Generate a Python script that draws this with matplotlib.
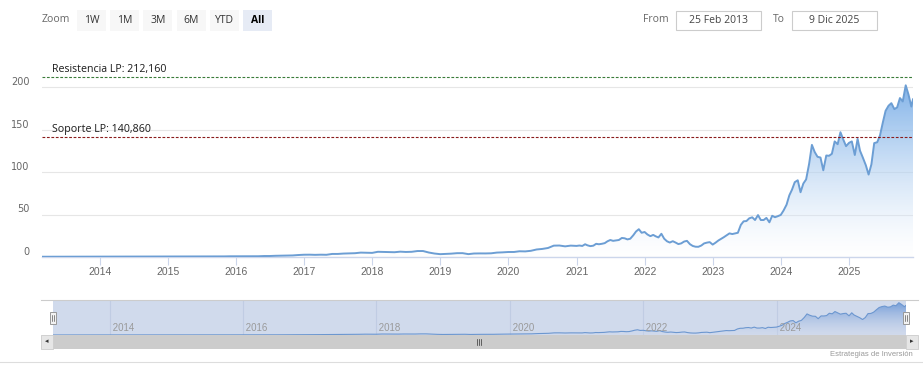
import numpy as np
import pandas as pd
import matplotlib
matplotlib.use("Agg")
import matplotlib.pyplot as plt
import matplotlib.dates as mdates
from matplotlib.patches import Rectangle
from matplotlib.transforms import blended_transform_factory

# monthly closes 2013-2020, semi-monthly 2021-2025 (split adjusted)
prices_2013 = [0.32, 0.35, 0.35, 0.35, 0.32, 0.34, 0.37, 0.38, 0.40, 0.40]
prices_2014 = [0.47, 0.46, 0.45, 0.46, 0.48, 0.46, 0.44, 0.46, 0.46, 0.49, 0.51, 0.50]
prices_2015 = [0.54, 0.55, 0.52, 0.55, 0.55, 0.50, 0.50, 0.56, 0.61, 0.71, 0.83, 0.82]
prices_2016 = [0.72, 0.76, 0.89, 0.89, 1.16, 1.17, 1.43, 1.53, 1.71, 1.84, 2.33, 2.67]
prices_2017 = [2.73, 2.53, 2.72, 2.60, 3.60, 3.61, 4.05, 4.22, 4.47, 5.17, 5.00, 4.84]
prices_2018 = [6.13, 6.00, 5.78, 5.62, 6.28, 5.92, 6.12, 7.02, 7.03, 5.27, 4.09, 3.34]
prices_2019 = [3.59, 3.94, 4.49, 4.52, 3.38, 4.11, 4.22, 4.19, 4.35, 5.20, 5.46, 5.88]
prices_2020 = [5.91, 6.74, 6.59, 7.28, 8.85, 9.48, 10.60, 13.37, 13.51, 12.52, 13.40, 13.04]
prices_2021 = [13.5, 13.0, 15.0, 13.7, 12.8, 13.3, 15.5, 15.0, 15.5, 16.3, 18.5, 20.0,
               19.0, 19.5, 20.0, 22.4, 22.0, 20.7, 21.5, 25.5, 30.0, 32.7, 28.5, 29.4]
prices_2022 = [26.5, 24.5, 26.0, 24.4, 23.0, 27.3, 21.5, 18.5, 17.0, 18.6, 17.0, 15.2,
               16.0, 18.2, 19.0, 15.1, 13.0, 12.1, 12.0, 13.5, 16.0, 16.9, 17.5, 14.6]
prices_2023 = [16.8, 19.5, 21.5, 23.2, 25.5, 27.8, 27.0, 27.7, 28.5, 37.8, 42.0, 42.3,
               45.5, 46.7, 43.5, 49.3, 43.5, 43.5, 46.0, 40.8, 48.5, 46.8, 48.0, 49.5]
prices_2024 = [54.7, 61.5, 72.6, 79.1, 88.0, 90.3, 76.2, 86.4, 91.3, 109.6, 131.9, 123.5,
               117.9, 117.0, 102.0, 119.4, 119.1, 121.4, 136.0, 132.7, 146.8, 138.3, 130.4, 134.3]
prices_2025 = [136.0, 120.0, 139.0, 125.0, 117.0, 108.0, 97.0, 109.0, 134.0, 135.0, 143.0, 158.0,
               172.0, 178.0, 181.0, 174.0, 176.0, 187.0, 183.0, 202.0, 191.0, 177.0]
first_close = 0.31
last_close = 185.5

resistance = 212.160
support = 140.860
y_ticks = [0, 50, 100, 150, 200]
zoom_buttons = ["1W", "1M", "3M", "6M", "YTD", "All"]
date_from = "25 Feb 2013"
date_to = "9 Dic 2025"

early = pd.date_range("2013-03-31", "2020-12-31", freq="ME")
late = pd.date_range("2021-01-01", "2025-11-30", freq="SME")
dates = ([pd.Timestamp("2013-02-25")] + list(early) + list(late)
         + [pd.Timestamp("2025-12-09")])
prices = ([first_close] + prices_2013 + prices_2014 + prices_2015 + prices_2016
          + prices_2017 + prices_2018 + prices_2019 + prices_2020 + prices_2021
          + prices_2022 + prices_2023 + prices_2024 + prices_2025 + [last_close])
x = mdates.date2num(dates)
y = np.array(prices)

W, H = 923, 380
def fx(px):
    return px / W
def fy(py):
    return 1 - py / H

plt.rcParams["font.family"] = ["Open Sans", "DejaVu Sans"]
fig = plt.figure(figsize=(W / 100, H / 100), dpi=100)


def gradient_area(ax, top_rgb, top_alpha, bottom_alpha, lw, line_color, power=1.0):
    poly = ax.fill_between(x, 0, y, color="none", lw=0)
    grad = np.zeros((256, 1, 4))
    t = np.linspace(0, 1, 256) ** power
    for i in range(3):
        grad[:, 0, i] = 1 - t * (1 - top_rgb[i])
    grad[:, 0, 3] = bottom_alpha + t * (top_alpha - bottom_alpha)
    im = ax.imshow(grad, extent=[x[0], x[-1], 0, y.max()], origin="lower",
                   aspect="auto", zorder=2, interpolation="bilinear")
    im.set_clip_path(poly.get_paths()[0], transform=ax.transData)
    ax.plot(x, y, color=line_color, lw=lw, zorder=3, solid_joinstyle="round")


# main chart
ax = fig.add_axes([fx(42), fy(257), (913 - 42) / W, (257 - 61.5) / H])
gradient_area(ax, (0.49, 0.69, 0.91), 0.95, 0.08, 1.4, "#6c9ed4", power=0.75)
ax.set_xlim(x[0], x[-1])
ax.set_ylim(0, 230)
for s in ["top", "right", "left"]:
    ax.spines[s].set_visible(False)
ax.spines["bottom"].set_color("#ccd6eb")
ax.spines["bottom"].set_linewidth(1)
ax.xaxis.set_major_locator(mdates.YearLocator())
ax.xaxis.set_major_formatter(mdates.DateFormatter("%Y"))
ax.tick_params(axis="x", length=6, color="#ccd6eb", pad=1, labelsize=7.5,
               labelcolor="#666666")
for lab in ax.get_xticklabels():
    lab.set_fontfamily("Liberation Sans")
ax.set_yticks(y_ticks)
ax.set_yticklabels([str(v) for v in y_ticks])
ax.tick_params(axis="y", length=0, pad=9, labelsize=7, labelcolor="#666666")
for lab in ax.get_yticklabels():
    lab.set_fontfamily("DejaVu Sans")
    lab.set_verticalalignment("bottom")
ax.grid(axis="y", color="#e6e6e6", lw=0.8)
ax.set_axisbelow(True)

ax.axhline(resistance, color="#3a7d3a", ls=(0, (2.5, 1.5)), lw=0.8, zorder=4)
ax.axhline(support, color="#8b1c1c", ls=(0, (2.5, 1.5)), lw=0.8, zorder=4)
tr = blended_transform_factory(ax.transAxes, ax.transData)
ax.text(0.0115, resistance + 2.5, "Resistencia LP: " + f"{resistance:.3f}".replace(".", ","),
        transform=tr, fontsize=7.7, color="#1a1a1a", va="bottom")
ax.text(0.0115, support + 2.5, "Soporte LP: " + f"{support:.3f}".replace(".", ","),
        transform=tr, fontsize=7.7, color="#1a1a1a", va="bottom")

# range selector
fig.text(fx(42), fy(20), "Zoom", fontsize=7.5, color="#666666", va="center")
bx = 77
for b in zoom_buttons:
    sel = b == "All"
    fig.patches.append(Rectangle((fx(bx), fy(31)), 29 / W, 21 / H, transform=fig.transFigure,
                                 facecolor="#e6ebf5" if sel else "#f7f7f7", edgecolor="none"))
    fig.text(fx(bx + 14.5), fy(20.5), b, fontsize=7.5, ha="center", va="center",
             color="#000000" if sel else "#333333", fontweight="bold" if sel else "normal")
    bx += 33.2

fig.text(fx(643), fy(20), "From", fontsize=7.5, color="#666666", va="center")
fig.text(fx(773), fy(20), "To", fontsize=7.5, color="#666666", va="center")
for left, txt in [(676, date_from), (792, date_to)]:
    fig.patches.append(Rectangle((fx(left), fy(30)), 85 / W, 19 / H, transform=fig.transFigure,
                                 facecolor="white", edgecolor="#cccccc", lw=0.8))
    fig.text(fx(left + 42.5), fy(20.5), txt, fontsize=7.5, color="#444444",
             ha="center", va="center")

# navigator
nav = fig.add_axes([fx(53), fy(335), (906 - 53) / W, 35 / H])
gradient_area(nav, (0.45, 0.64, 0.88), 0.95, 0.3, 0.8, "#6f9fd6")
nav.set_xlim(x[0], x[-1])
nav.set_ylim(0, 219)
nav.axis("off")
nav.add_patch(Rectangle((0, 0), 1, 1, transform=nav.transAxes, facecolor=(0.4, 0.52, 0.76),
                        alpha=0.3, edgecolor="none", zorder=5))
ntr = blended_transform_factory(nav.transData, nav.transAxes)
for yr in range(2014, 2026, 2):
    xd = mdates.date2num(pd.Timestamp(f"{yr}-01-01"))
    nav.plot([xd, xd], [0, 1], transform=ntr, color="#e8ebf2", lw=0.8, zorder=1)
    nav.text(xd, 0.2, f" {yr}", transform=ntr, fontsize=7, color="#9a9a9a",
             fontfamily="Liberation Sans", va="center", ha="left", zorder=6)

fig.lines.append(plt.Line2D([fx(41), fx(918)], [fy(300), fy(300)], transform=fig.transFigure,
                            color="#cccccc", lw=0.8))
# handles
for hx in [53, 906]:
    fig.patches.append(Rectangle((fx(hx - 3), fy(324)), 6 / W, 12 / H, transform=fig.transFigure,
                                 facecolor="#f2f2f2", edgecolor="#999999", lw=0.7, zorder=7))
    for dx in [-0.8, 0.8]:
        fig.lines.append(plt.Line2D([fx(hx + dx), fx(hx + dx)], [fy(321), fy(315)],
                                    transform=fig.transFigure, color="#333333", lw=0.4, zorder=8))

# scrollbar
fig.patches.append(Rectangle((fx(41), fy(349)), 877 / W, 14 / H, transform=fig.transFigure,
                             facecolor="#f2f2f2", edgecolor="none"))
fig.patches.append(Rectangle((fx(53), fy(349)), 853 / W, 14 / H, transform=fig.transFigure,
                             facecolor="#cccccc", edgecolor="none"))
for bxl in [41, 906]:
    fig.patches.append(Rectangle((fx(bxl), fy(349)), 12 / W, 14 / H, transform=fig.transFigure,
                                 facecolor="#e6e6e6", edgecolor="#cccccc", lw=0.6))
fig.text(fx(47), fy(342), "\u25c2", fontsize=5, color="#333333", ha="center", va="center")
fig.text(fx(912), fy(342), "\u25b8", fontsize=5, color="#333333", ha="center", va="center")
for gx in [476.5, 478.5, 480.5]:
    fig.lines.append(plt.Line2D([fx(gx), fx(gx)], [fy(339), fy(345)], transform=fig.transFigure,
                                color="#333333", lw=0.5))

fig.text(fx(913), fy(354), "Estrategias de Inversión", fontsize=5.5, color="#999999",
         ha="right", va="center", fontfamily="Liberation Sans")
fig.lines.append(plt.Line2D([0, 1], [fy(362), fy(362)], transform=fig.transFigure,
                            color="#dddddd", lw=0.8))

fig.savefig("out.png", dpi=100)
